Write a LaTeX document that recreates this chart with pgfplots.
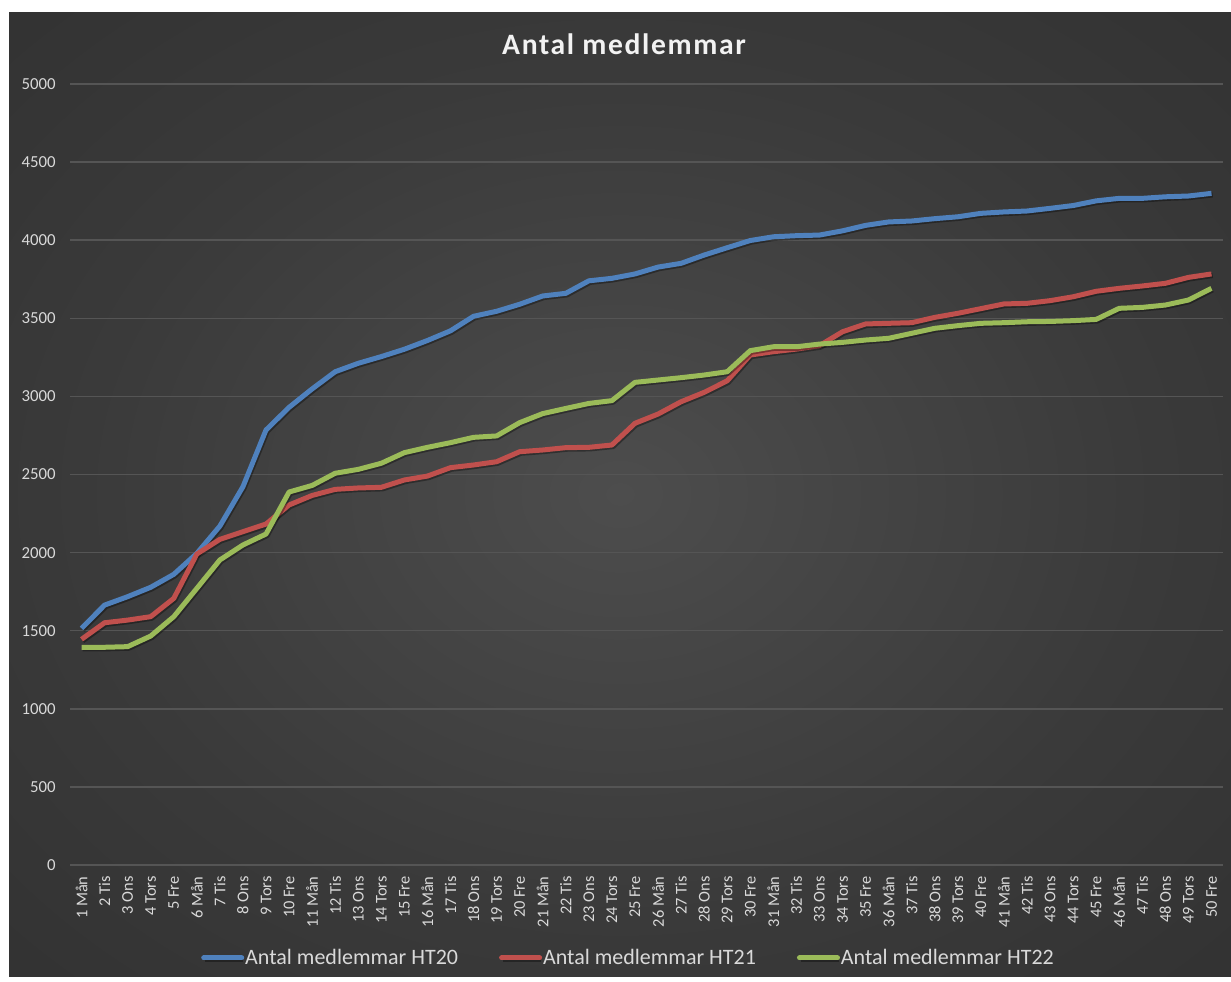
\documentclass[border=0pt]{standalone}
\usepackage{fontspec}
\setmainfont{Carlito}
\newfontfamily\titlefont[LetterSpace=5.5]{Carlito}
\usepackage{pgfplots}
\pgfplotsset{compat=1.18}
\definecolor{bgA}{HTML}{4D4D4D}
\definecolor{bgB}{HTML}{3A3A3A}
\definecolor{bgC}{HTML}{2D2D2D}
\definecolor{bgD}{HTML}{252525}
\definecolor{gridc}{HTML}{555555}
\definecolor{tickc}{HTML}{D9D9D9}
\definecolor{sBlue}{HTML}{4F81BD}
\definecolor{sRed}{HTML}{C0504D}
\definecolor{sGreen}{HTML}{9BBB59}
\pgfdeclareradialshading{bgshade}{\pgfpoint{0bp}{0bp}}{color(0bp)=(bgA); color(22bp)=(bgB); color(45bp)=(bgC); color(71bp)=(bgD)}
\begin{document}
\begin{tikzpicture}
\fill[white] (0pt,0pt) rectangle (615.5pt,-490.5pt);
\shade[shading=bgshade] (4.5pt,-6pt) rectangle (615.5pt,-488pt);
\node[anchor=base, text=white!95!black, font=\fontsize{14.8}{16}\selectfont\bfseries\titlefont] at (312pt,-27pt) {Antal medlemmar};
\begin{axis}[
  at={(35pt,-432.5pt)}, anchor=south west,
  scale only axis, width=576.5pt, height=390.5pt,
  xmin=0.5, xmax=50.5, ymin=0, ymax=5000,
  axis line style={draw=none},
  major tick length=0pt,
  ymajorgrids, grid style={draw=gridc, line width=0.75pt},
  ytick={0,500,...,5000},
  scaled y ticks=false,
  /pgf/number format/assume math mode=true,
  /pgf/number format/1000 sep={},
  yticklabel style={font=\fontsize{8.4}{10}\selectfont, text=tickc, anchor=east, inner sep=0pt, xshift=-7pt},
  xtick={1,...,50},
  xticklabels={1 Mån,2 Tis,3 Ons,4 Tors,5 Fre,6 Mån,7 Tis,8 Ons,9 Tors,10 Fre,11 Mån,12 Tis,13 Ons,14 Tors,15 Fre,16 Mån,17 Tis,18 Ons,19 Tors,20 Fre,21 Mån,22 Tis,23 Ons,24 Tors,25 Fre,26 Mån,27 Tis,28 Ons,29 Tors,30 Fre,31 Mån,32 Tis,33 Ons,34 Tors,35 Fre,36 Mån,37 Tis,38 Ons,39 Tors,40 Fre,41 Mån,42 Tis,43 Ons,44 Tors,45 Fre,46 Mån,47 Tis,48 Ons,49 Tors,50 Fre},
  xticklabel style={font=\fontsize{8.2}{10}\selectfont, text=tickc, yshift=-5.5pt, rotate=90, anchor=east, inner sep=0pt},
  legend columns=3,
  legend style={at={(0.484,-0.119)}, anchor=center, draw=none, fill=none, text=tickc,
    font=\fontsize{11}{13}\selectfont, nodes={inner xsep=0.5pt},
    /tikz/every even column/.append style={column sep=20pt}},
  legend image code/.code={\draw[line width=2.5pt, line cap=round] (0pt,0pt) -- (19pt,0pt);},
  every axis plot/.append style={line width=2.5pt, line join=round, mark=none,
    preaction={draw=black, opacity=0.35, transform canvas={xshift=0.6pt, yshift=-0.8pt}}},
]
\addplot[sBlue] coordinates {
(1,1515)(2,1664)(3,1718)(4,1778)(5,1861)(6,1995)(7,2170)(8,2422)(9,2785)(10,2930)
(11,3048)(12,3158)(13,3212)(14,3255)(15,3302)(16,3358)(17,3420)(18,3513)(19,3545)(20,3590)
(21,3643)(22,3660)(23,3740)(24,3756)(25,3784)(26,3828)(27,3852)(28,3905)(29,3952)(30,3998)
(31,4022)(32,4029)(33,4033)(34,4060)(35,4095)(36,4117)(37,4123)(38,4138)(39,4150)(40,4172)
(41,4181)(42,4187)(43,4204)(44,4222)(45,4252)(46,4268)(47,4268)(48,4278)(49,4283)(50,4300)};
\addlegendentry{Antal medlemmar HT20}
\addplot[sRed] coordinates {
(1,1445)(2,1551)(3,1568)(4,1590)(5,1707)(6,1991)(7,2085)(8,2134)(9,2183)(10,2305)
(11,2366)(12,2405)(13,2414)(14,2418)(15,2465)(16,2490)(17,2544)(18,2561)(19,2582)(20,2646)
(21,2657)(22,2672)(23,2674)(24,2689)(25,2828)(26,2887)(27,2966)(28,3026)(29,3100)(30,3265)
(31,3286)(32,3303)(33,3325)(34,3414)(35,3464)(36,3468)(37,3472)(38,3506)(39,3532)(40,3562)
(41,3592)(42,3596)(43,3613)(44,3638)(45,3673)(46,3692)(47,3707)(48,3724)(49,3762)(50,3784)};
\addlegendentry{Antal medlemmar HT21}
\addplot[sGreen] coordinates {
(1,1394)(2,1394)(3,1398)(4,1466)(5,1590)(6,1771)(7,1953)(8,2049)(9,2119)(10,2388)
(11,2430)(12,2508)(13,2533)(14,2572)(15,2640)(16,2674)(17,2704)(18,2738)(19,2747)(20,2832)
(21,2890)(22,2923)(23,2955)(24,2973)(25,3090)(26,3105)(27,3120)(28,3137)(29,3158)(30,3293)
(31,3318)(32,3318)(33,3335)(34,3346)(35,3361)(36,3372)(37,3404)(38,3436)(39,3453)(40,3468)
(41,3472)(42,3478)(43,3480)(44,3485)(45,3493)(46,3564)(47,3570)(48,3585)(49,3617)(50,3692)};
\addlegendentry{Antal medlemmar HT22}
\end{axis}
\end{tikzpicture}
\end{document}
